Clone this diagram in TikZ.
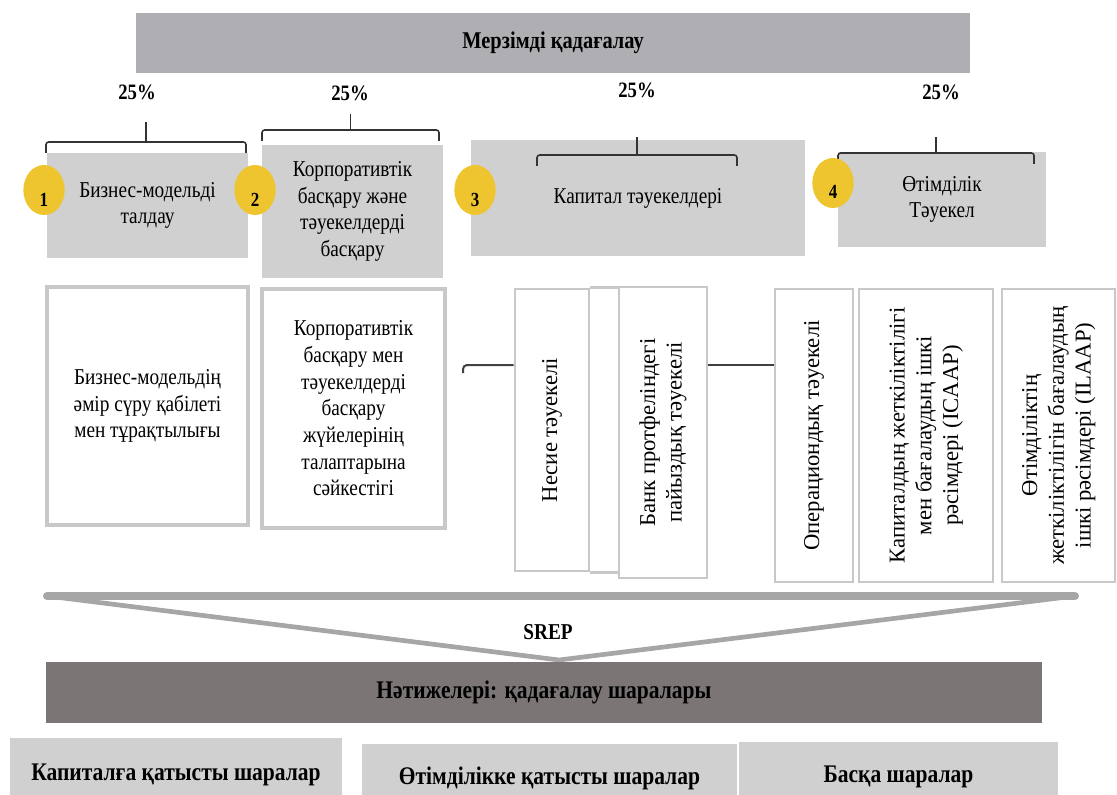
\documentclass[tikz,border=0pt]{standalone}
\usepackage{fontspec}
\setmainfont{Liberation Serif}
\newfontfamily\narrowserif[FakeStretch=0.85]{Liberation Serif}
\usepackage{tikz}
\usetikzlibrary{shapes.geometric,calc}
\definecolor{BarGray}{HTML}{AFAEB2}
\definecolor{PaleGray}{HTML}{D0D0D0}
\definecolor{EdgeGray}{HTML}{C8C8C8}
\definecolor{Gold}{HTML}{EEC52F}
\definecolor{DarkTaupe}{HTML}{7B7675}
\definecolor{FunnelGray}{HTML}{A6A6A6}

\begin{document}
\begin{tikzpicture}[x=0.75pt, y=-0.75pt,
  bar/.style={fill=BarGray, minimum width=625.5pt, minimum height=45pt, font=\narrowserif\bfseries\fontsize{18}{21}\selectfont},
  pct/.style={font=\narrowserif\bfseries\fontsize{16.5}{19}\selectfont},
  area/.style={fill=PaleGray, align=center, inner sep=0pt, font=\narrowserif\fontsize{17}{20}\selectfont},
  badge/.style={ellipse, fill=Gold, minimum width=31pt, minimum height=37.5pt, inner sep=0pt, text height=24pt, text depth=0pt, font=\narrowserif\bfseries\fontsize{15}{18}\selectfont},
  panel/.style={draw=EdgeGray, line width=3pt, fill=white, align=center, inner sep=0pt, font=\narrowserif\fontsize{17}{20}\selectfont},
  slim/.style={draw=EdgeGray, line width=2pt, fill=white, inner sep=0pt, font=\fontsize{17}{20}\selectfont},
  brace/.style={draw=black!80, line width=1.2pt, rounded corners=2pt},
  link/.style={draw=black!75, line width=1.5pt},
  measure/.style={fill=PaleGray, inner sep=0pt, font=\narrowserif\bfseries\fontsize{19}{22}\selectfont}]
\clip (0,0) rectangle (1117,795);

% supervision bar and weights
\node[bar] (top) at (553,43) {Мерзімді қадағалау};
\node[pct] (pc1) at (137,92) {25\%};
\node[pct] (pc2) at (350,93) {25\%};
\node[pct] (pc3) at (637,90) {25\%};
\node[pct] (pc4) at (941,92) {25\%};

% four areas
\node[area, minimum width=150.75pt, minimum height=78.75pt] (ar1) at (147.5,205.5) {Бизнес-модельді\\талдау};
\node[area, minimum width=135.75pt, minimum height=99.75pt] (ar2) at (352.5,211.5) {Корпоративтік\\басқару және\\тәуекелдерді\\басқару};
\node[area, minimum width=250.5pt, minimum height=87pt] (ar3) at (638,198) {Капитал тәуекелдері};
\node[area, minimum width=156pt, minimum height=71.25pt] (ar4) at (942,199.5) {Өтімділік\\Тәуекел};

\foreach \l/\r/\y/\t in {46/246/142/122, 262/439/130/114, 537/737/155/137, 838/1034/153/137} {
  \draw[brace] (\l,\y+11) -- (\l,\y) -- (\r,\y) -- (\r,\y+11);
  \draw[brace] ({(\l+\r)/2},\y) -- ({(\l+\r)/2},\t);
}
\foreach \n/\x/\y in {1/44/190, 2/255/190, 3/475/190, 4/833/183}
  \node[badge] (num\n) at (\x,\y) {\n};

% assessment elements
\node[panel, minimum width=150.75pt, minimum height=178.5pt] (pn1) at (147.5,406) {Бизнес-модельдің\\әмір сүру қабілеті\\мен тұрақтылығы};
\node[panel, minimum width=137.25pt, minimum height=179.25pt] (pn2) at (353.5,408.5) {Корпоративтік\\басқару мен\\тәуекелдерді\\басқару\\жүйелерінің\\талаптарына\\сәйкестігі};

\node[slim, minimum width=55.5pt, minimum height=211.5pt] (rk1) at (552,430) {\rotatebox{90}{Несие тәуекелі}};
\draw[slim] (rk1.north east) -- ++(31,0) |- (rk1.south east);
\node[slim, minimum width=66pt, minimum height=218.25pt] (rk2) at (663,432.5) {\rotatebox{90}{\begin{tabular}{@{}c@{}}Банк протфеліндегі\\пайыздық тәуекелі\end{tabular}}};
\node[slim, minimum width=58.5pt, minimum height=219.75pt] (rk3) at (814,435.5) {\rotatebox{90}{Операциондық тәуекелі}};
\node[slim, minimum width=100.5pt, minimum height=219.75pt] (rk4) at (926,435.5) {\rotatebox{90}{\begin{tabular}{@{}c@{}}Капиталдың жеткіліктілігі\\мен бағалаудың ішкі\\рәсімдері (ICAAP)\end{tabular}}};
\node[slim, minimum width=84.75pt, minimum height=219.75pt] (rk5) at (1058.5,435.5) {\rotatebox{90}{\begin{tabular}{@{}c@{}}Өтімділіктің\\жеткіліктілігін бағалаудың\\ішкі рәсімдері (ILAAP)\end{tabular}}};

\coordinate (lvl) at (0,365);
\coordinate (hook) at (463,365);
\draw[link, rounded corners=3pt] (rk1.west |- lvl) -- (hook) -- ++(0,8);
\draw[link] (rk2.east |- lvl) -- (rk3.west |- lvl);

% SREP funnel
\coordinate (fl) at (47,596);
\coordinate (fr) at (1075,596);
\coordinate (fa) at (559,660);
\draw[FunnelGray, line width=3.5pt, line join=round] (fl) -- (fr) -- (fa) -- cycle;
\draw[FunnelGray, line width=6pt, line cap=round] (fl) -- (fr);
\node[font=\narrowserif\bfseries\fontsize{17}{20}\selectfont] (srep) at (548,632) {SREP};

% outcome and measures
\node[fill=DarkTaupe, minimum width=747pt, minimum height=45.75pt, font=\narrowserif\bfseries\fontsize{19}{22}\selectfont] (res) at (544,692.5) {Нәтижелері: қадағалау шаралары};
\node[measure, minimum width=249pt, minimum height=55.5pt] (ms1) at (176,775) {Капиталға қатысты шаралар};
\node[measure, minimum width=281.25pt, minimum height=51pt] (ms2) at (549.5,778) {Өтімділікке қатысты шаралар};
\node[measure, minimum width=239.25pt, minimum height=52.5pt] (ms3) at (898.5,777) {Басқа шаралар};
\end{tikzpicture}
\end{document}
